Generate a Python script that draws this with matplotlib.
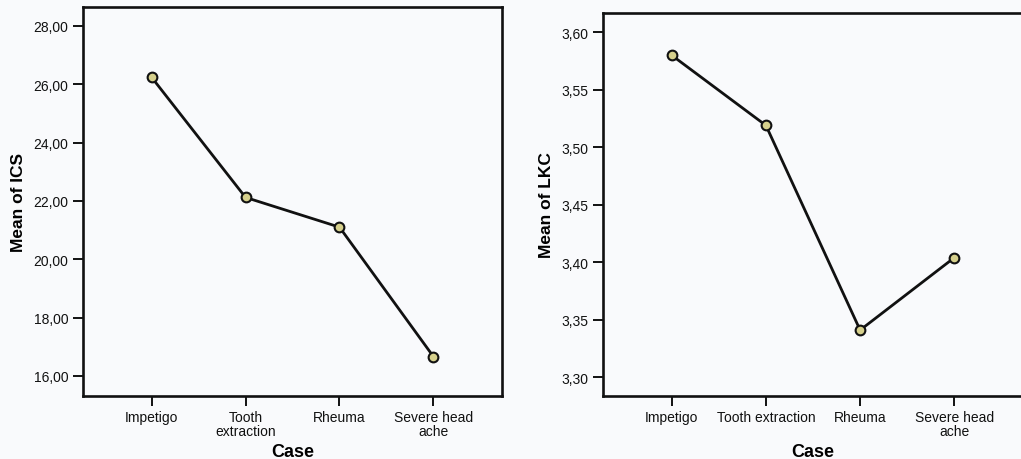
import matplotlib
matplotlib.use("Agg")
import matplotlib.pyplot as plt
from matplotlib.ticker import FuncFormatter

plt.rcParams['font.family'] = ['Liberation Sans', 'DejaVu Sans']

cases = ['Impetigo', 'Tooth extraction', 'Rheuma', 'Severe head ache']
labelsLeft = ['Impetigo', 'Tooth\nextraction', 'Rheuma', 'Severe head\nache']
labelsRight = ['Impetigo', 'Tooth extraction', 'Rheuma', 'Severe head\nache']
meanICS = [26.24, 22.12, 21.10, 16.66]
meanLKC = [3.580, 3.519, 3.341, 3.404]

bg = '#f9fafc'
markerFill = '#d6d08c'

fig = plt.figure(figsize=(10.21, 4.6), dpi=100, facecolor=bg)


def comma(v, pos, digits=2):
    return f'{v:.{digits}f}'.replace('.', ',')


def setupAxes(ax, values, labels, ylabel, ticks, ylim):
    ax.set_facecolor(bg)
    x = range(len(values))
    ax.plot(x, values, color='#111111', lw=2.0, marker='o', ms=7,
            mfc=markerFill, mec='#111111', mew=1.5, zorder=3)
    ax.set_xlim(-0.73, 3.73)
    ax.set_ylim(*ylim)
    ax.set_yticks(ticks)
    ax.yaxis.set_major_formatter(FuncFormatter(comma))
    ax.set_xticks(list(x))
    ax.set_xticklabels(labels, linespacing=1.05)
    ax.tick_params(axis='both', direction='out', length=7, width=1.4,
                   labelsize=10, colors='#111111')
    ax.tick_params(axis='y', pad=3.5)
    ax.tick_params(axis='x', pad=3)
    for s in ax.spines.values():
        s.set_linewidth(1.9)
        s.set_color('#111111')
    ax.set_ylabel(ylabel, fontsize=12.5, fontweight='bold', labelpad=5)
    ax.set_xlabel('Case', fontsize=13, fontweight='bold', labelpad=3)


# Left panel: ICS
axL = fig.add_axes([0.0813, 0.137, 0.4104, 0.8456])
setupAxes(axL, meanICS, labelsLeft, 'Mean of ICS',
          [16, 18, 20, 22, 24, 26, 28], (15.31, 28.65))

# Right panel: LKC
axR = fig.add_axes([0.5906, 0.137, 0.4114, 0.8326])
setupAxes(axR, meanLKC, labelsRight, 'Mean of LKC',
          [3.30, 3.35, 3.40, 3.45, 3.50, 3.55, 3.60], (3.2837, 3.6168))

fig.savefig('out.png', dpi=100, facecolor=bg)
